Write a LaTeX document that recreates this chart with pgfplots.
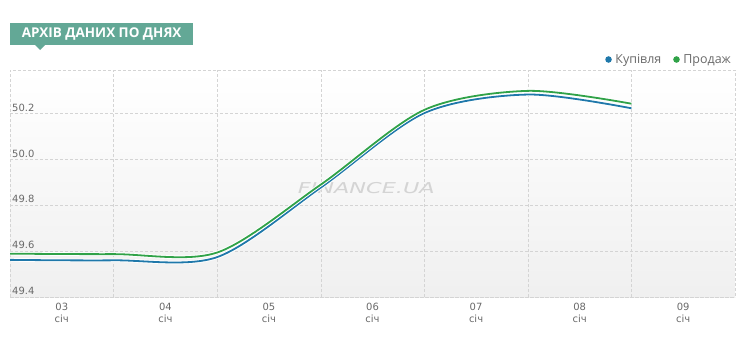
\documentclass[border=0pt]{standalone}
\usepackage{pgfplots}
\pgfplotsset{compat=1.18}
\usepackage{fontspec}
\setmainfont{Open Sans}
\newfontfamily\dejavu{DejaVu Sans}
\definecolor{buyblue}{RGB}{31,120,170}
\definecolor{sellgreen}{RGB}{48,162,72}
\definecolor{titleteal}{RGB}{99,168,150}
\definecolor{gridgray}{RGB}{212,212,212}
\definecolor{labgray}{RGB}{105,105,105}
\begin{document}
\begin{tikzpicture}[x=1bp,y=1bp]
\path[use as bounding box] (0,0) rectangle (745,339);
\begin{axis}[
  at={(10bp,42bp)}, anchor=south west,
  scale only axis, width=725bp, height=227bp,
  xmin=2.5, xmax=9.5, ymin=49.4, ymax=50.39,
  axis background/.style={shade, top color=white, middle color=white, bottom color=black!6},
  axis line style={draw=gridgray, dash pattern=on 3bp off 2bp},
  xtick={3,4,5,6,7,8,9},
  xticklabels={{03\\січ},{04\\січ},{05\\січ},{06\\січ},{07\\січ},{08\\січ},{09\\січ}},
  minor xtick={3.5,4.5,5.5,6.5,7.5,8.5},
  xminorgrids,
  ytick={49.4,49.6,49.8,50.0,50.2},
  yticklabels={49.4,49.6,49.8,50.0,50.2},
  ymajorgrids,
  grid style={draw=gridgray, dash pattern=on 3bp off 2bp},
  minor grid style={draw=gridgray, dash pattern=on 3bp off 2bp},
  major tick length=0pt, minor tick length=0pt,
  tick label style={font=\dejavu\fontsize{10}{11.5}\selectfont, text=labgray},
  xticklabel style={align=center, yshift=-3bp},
  yticklabel style={anchor=south west, inner sep=1bp, xshift=1bp, yshift=1bp},
  legend style={at={(1,1)}, anchor=south east, draw=none, fill=none,
    font=\fontsize{12.5}{14}\selectfont, text=labgray, legend columns=2,
    /tikz/column 2/.style={column sep=10bp}, xshift=1bp, yshift=1bp},
  legend image code/.code={\fill (0bp,0bp) circle (2.3bp); \path (4bp,0bp);},
]
\node[text=black!17, font=\dejavu\itshape\fontsize{15}{15}\selectfont, xscale=1.5] at (axis cs:5.94,49.877) {FINANCE.UA};
\addplot[white, line width=3.6bp, smooth, tension=0.5, forget plot] coordinates {
(2.5,49.562) (3.5,49.560) (4.5,49.574) (5.5,49.877) (6.5,50.202) (7.5,50.283) (8.5,50.223)};
\addplot[buyblue, line width=1.8bp, smooth, tension=0.5] coordinates {
(2.5,49.562) (3.5,49.560) (4.5,49.574) (5.5,49.877) (6.5,50.202) (7.5,50.283) (8.5,50.223)};
\addlegendentry{Купівля}
\addplot[white, line width=3.6bp, smooth, tension=0.5, forget plot] coordinates {
(2.5,49.589) (3.5,49.587) (4.5,49.594) (5.5,49.890) (6.5,50.216) (7.5,50.299) (8.5,50.243)};
\addplot[sellgreen, line width=1.8bp, smooth, tension=0.5] coordinates {
(2.5,49.589) (3.5,49.587) (4.5,49.594) (5.5,49.890) (6.5,50.216) (7.5,50.299) (8.5,50.243)};
\addlegendentry{Продаж}
\end{axis}
\node[fill=titleteal, text=white, font=\bfseries\fontsize{13.5}{14}\selectfont, anchor=north west, minimum width=183bp, minimum height=22bp, inner sep=0pt] at (10,316) {АРХІВ ДАНИХ ПО ДНЯХ};
\fill[titleteal] (35,294) -- (45,294) -- (40,289) -- cycle;
\end{tikzpicture}
\end{document}
